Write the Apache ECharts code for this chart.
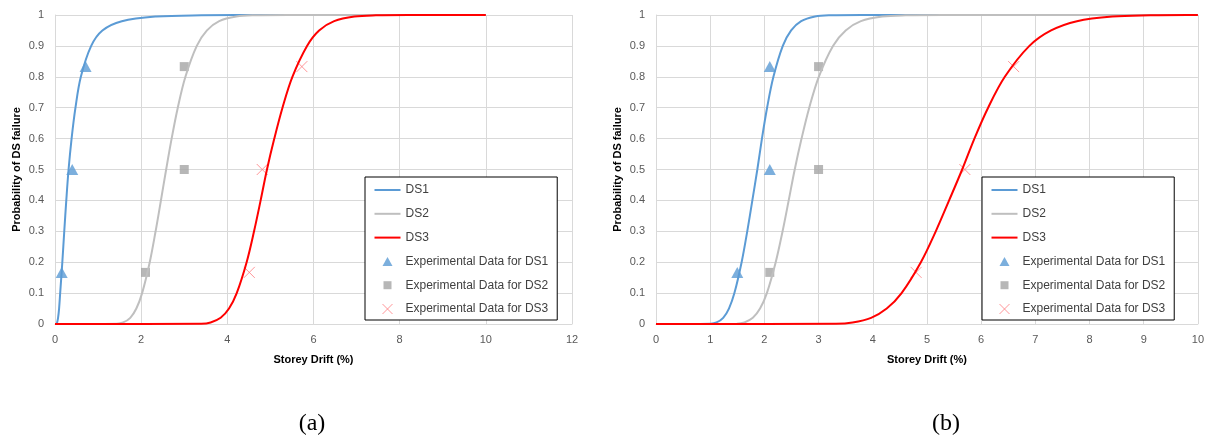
<!DOCTYPE html>
<html>
<head>
<meta charset="utf-8">
<script src="https://cdn.jsdelivr.net/npm/echarts@6/dist/echarts.min.js"></script>
<style>
html,body{margin:0;padding:0;background:#fff;}
#chart{width:1207px;height:441px;}
</style>
</head>
<body>
<div id="chart"></div>
<script>
const PROB = [0, 0.001, 0.005, 0.02, 0.05, 0.1, 0.2, 0.3, 0.4, 0.5, 0.6, 0.7, 0.8, 0.9, 0.95, 0.98, 0.995, 0.999, 1, 1];

// Chart (a): storey drift (%) at each probability level
const A_DS1_X = [0, 0.034, 0.049, 0.071, 0.095, 0.12, 0.17, 0.215, 0.262, 0.315, 0.385, 0.475, 0.6, 0.84, 1.1, 1.55, 2.35, 3.4, 5.0, 10];
const A_DS2_X = [0, 1.434, 1.582, 1.747, 1.888, 2.022, 2.199, 2.335, 2.459, 2.58, 2.707, 2.85, 3.027, 3.291, 3.527, 3.811, 4.208, 4.64, 5.4, 10];
const A_DS3_X = [0, 3.395, 3.612, 3.845, 4.039, 4.218, 4.448, 4.62, 4.773, 4.92, 5.09, 5.28, 5.51, 5.85, 6.13, 6.48, 6.95, 7.45, 8.2, 10];

// Chart (b)
const B_DS1_X = [0, 1.008, 1.117, 1.24, 1.346, 1.447, 1.58, 1.684, 1.778, 1.87, 1.955, 2.05, 2.167, 2.34, 2.494, 2.679, 2.935, 3.211, 3.8, 10];
const B_DS2_X = [0, 1.491, 1.631, 1.787, 1.92, 2.046, 2.209, 2.336, 2.449, 2.56, 2.686, 2.828, 3.004, 3.266, 3.5, 3.781, 4.175, 4.605, 5.3, 10];
const B_DS3_X = [0, 3.321, 3.627, 3.969, 4.258, 4.532, 4.888, 5.163, 5.409, 5.65, 5.876, 6.129, 6.437, 6.891, 7.291, 7.768, 8.422, 9.121, 9.8, 10];

// Experimental data
const EXP_Y = [0.167, 0.5, 0.833];
const A_EXP_DS1 = [0.155, 0.4, 0.71];
const A_EXP_DS2 = [2.1, 3.0, 3.0];
const A_EXP_DS3 = [4.51, 4.81, 5.73];
const B_EXP_DS1 = [1.5, 2.1, 2.1];
const B_EXP_DS2 = [2.1, 3.0, 3.0];
const B_EXP_DS3 = [4.8, 5.7, 6.6];

// Axes
const A_X_MAX = 12, A_X_STEP = 2;
const B_X_MAX = 10, B_X_STEP = 1;
const Y_MAX = 1, Y_STEP = 0.1;

const NAMES = ['DS1', 'DS2', 'DS3', 'Experimental Data for DS1', 'Experimental Data for DS2', 'Experimental Data for DS3'];
const CAPTIONS = ['(a)', '(b)'];

const C1 = '#5B9BD5', C2 = '#BFBFBF', C3 = '#FF0000', M2 = '#A5A5A5', M3 = '#FF7C80';
const FONT = 'Liberation Sans';

// legend icons inside a 26x10 box (zero-size corner anchors keep the box)
const BOX = 'M0,0L0,0M26,10L26,10';
const ICONS = [
  'path://' + BOX + 'M0,4L26,4L26,6L0,6Z',
  'path://' + BOX + 'M0,4L26,4L26,6L0,6Z',
  'path://' + BOX + 'M0,4L26,4L26,6L0,6Z',
  'path://' + BOX + 'M8,9.5L13,0.5L18,9.5Z',
  'path://' + BOX + 'M9,1L17,1L17,9L9,9Z',
  'path://' + BOX + 'M8,0L18,10M18,0L8,10'
];

function curve(xs) { return xs.map((x, i) => [x, PROB[i]]); }
function pts(xs) { return xs.map((x, i) => [x, EXP_Y[i]]); }

function seriesFor(idx, d1, d2, d3, e1, e2, e3) {
  const base = { xAxisIndex: idx, yAxisIndex: idx };
  const line = (name, data, color) => Object.assign({
    type: 'line', name, data, symbol: 'none', smooth: 0.35,
    lineStyle: { color, width: 2 }, itemStyle: { color }, silent: true
  }, base);
  return [
    line(NAMES[0], curve(d1), C1),
    line(NAMES[1], curve(d2), C2),
    line(NAMES[2], curve(d3), C3),
    Object.assign({ type: 'scatter', name: NAMES[3], data: pts(e1), symbol: 'triangle', symbolSize: [12, 11], itemStyle: { color: C1 } }, base),
    Object.assign({ type: 'scatter', name: NAMES[4], data: pts(e2), symbol: 'rect', symbolSize: 9, itemStyle: { color: M2 } }, base),
    Object.assign({ type: 'scatter', name: NAMES[5], data: pts(e3), symbol: 'path://M0,0L10,10M10,0L0,10', symbolSize: 11,
      itemStyle: { color: 'rgba(0,0,0,0)', borderColor: M3, borderWidth: 1 } }, base)
  ];
}

function xAxis(idx, max, step) {
  return {
    gridIndex: idx, type: 'value', min: 0, max: max, interval: step,
    name: 'Storey Drift (%)', nameLocation: 'middle', nameGap: 30,
    nameTextStyle: { fontFamily: FONT, fontWeight: 'bold', fontSize: 11, color: '#000' },
    axisLine: { show: true, lineStyle: { color: '#d9d9d9', width: 1 } },
    axisTick: { show: false },
    axisLabel: { color: '#595959', fontFamily: FONT, fontSize: 11, margin: 10 },
    splitLine: { show: true, lineStyle: { color: '#d9d9d9', width: 1 } }
  };
}
function yAxis(idx) {
  return {
    gridIndex: idx, type: 'value', min: 0, max: Y_MAX, interval: Y_STEP,
    name: 'Probability of DS failure', nameLocation: 'middle', nameGap: 33, nameRotate: 90,
    nameTextStyle: { fontFamily: FONT, fontWeight: 'bold', fontSize: 11, color: '#000' },
    axisLine: { show: true, lineStyle: { color: '#d9d9d9', width: 1 } },
    axisTick: { show: false },
    axisLabel: { color: '#595959', fontFamily: FONT, fontSize: 11, margin: 11 },
    splitLine: { show: true, lineStyle: { color: '#d9d9d9', width: 1 } }
  };
}
function legend(left) {
  return {
    orient: 'vertical', left: left, top: 177,
    data: NAMES.map((n, i) => i === 5
      ? { name: n, icon: ICONS[i], itemStyle: { color: 'rgba(0,0,0,0)', borderColor: M3, borderWidth: 1 } }
      : { name: n, icon: ICONS[i], itemStyle: { borderWidth: 0 } }),
    itemWidth: 26, itemHeight: 10, itemGap: 11.8,
    padding: [7, 9, 5, 9],
    backgroundColor: '#fff', borderColor: '#000', borderWidth: 1, borderRadius: 0,
    textStyle: { color: '#404040', fontFamily: FONT, fontSize: 12, lineHeight: 12 },
    selectedMode: false
  };
}

const chart = echarts.init(document.getElementById('chart'), null, { renderer: 'canvas' });
chart.setOption({
  animation: false,
  backgroundColor: '#fff',
  grid: [
    { left: 55, top: 15, width: 517, height: 309 },
    { left: 656, top: 15, width: 544, height: 309 }
  ],
  xAxis: [xAxis(0, A_X_MAX, A_X_STEP), xAxis(1, B_X_MAX, B_X_STEP)],
  yAxis: [yAxis(0), yAxis(1)],
  legend: [legend(365), legend(982)],
  series: [].concat(
    seriesFor(0, A_DS1_X, A_DS2_X, A_DS3_X, A_EXP_DS1, A_EXP_DS2, A_EXP_DS3),
    seriesFor(1, B_DS1_X, B_DS2_X, B_DS3_X, B_EXP_DS1, B_EXP_DS2, B_EXP_DS3)
  ),
  graphic: [
    { type: 'text', x: 312, y: 424, style: { text: CAPTIONS[0], fill: '#000', font: '24px "Liberation Serif"', textAlign: 'center', textVerticalAlign: 'middle' } },
    { type: 'text', x: 946, y: 424, style: { text: CAPTIONS[1], fill: '#000', font: '24px "Liberation Serif"', textAlign: 'center', textVerticalAlign: 'middle' } }
  ]
});
</script>
</body>
</html>
